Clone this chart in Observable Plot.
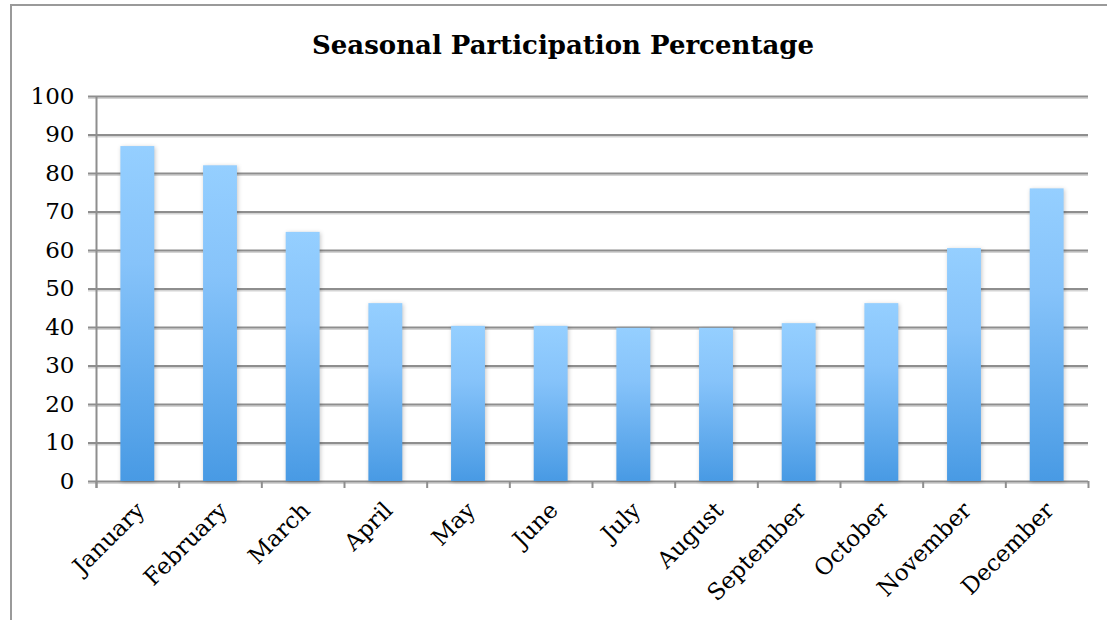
<!DOCTYPE html>
<html>
<head>
<meta charset="utf-8">
<script src="https://cdn.jsdelivr.net/npm/d3@7"></script>
<script src="https://cdn.jsdelivr.net/npm/@observablehq/plot@0.6"></script>
<style>
  html, body { margin: 0; padding: 0; background: #fff; }
  body { width: 1107px; height: 620px; overflow: hidden; position: relative; }
  #box {
    position: absolute; left: 10px; top: 4px; width: 1110px; height: 640px;
    border: 2px solid #9a9a9a; box-sizing: border-box;
  }
  #title {
    position: absolute; left: 10px; width: 1106px; top: 28px;
    text-align: center; font-family: "DejaVu Serif", serif; font-weight: bold;
    font-size: 26px; color: #000; line-height: 34px;
  }
  #chart { position: absolute; left: 0; top: 0; }
  #chart g[aria-label="bar"] rect { filter: drop-shadow(1px 1px 2px rgba(0,0,0,0.22)); }
</style>
</head>
<body>
<div id="box"></div>
<div id="title">Seasonal Participation Percentage</div>
<div id="chart"></div>
<script>
// Monthly participation, in percent
const months = ["January", "February", "March", "April", "May", "June",
  "July", "August", "September", "October", "November", "December"];
const participation = [87, 82, 64.7, 46.2, 40.3, 40.3, 39.8, 39.8, 41, 46.2, 60.5, 76];
const yTicks = [0, 10, 20, 30, 40, 50, 60, 70, 80, 90, 100];

const data = months.map((m, i) => ({month: m, value: participation[i]}));

const W = 1107, H = 620;
const mL = 96, mR = 19, mT = 96, mB = 139;
const step = (W - mL - mR) / months.length;
const font = "DejaVu Serif, serif";
const axisGray = "#8e8e8e";
const shadeGray = "#d4d4d4";

// Vertical blue gradient shared by every bar
const gradientDefs = () => {
  const ns = "http://www.w3.org/2000/svg";
  const defs = document.createElementNS(ns, "defs");
  const g = document.createElementNS(ns, "linearGradient");
  g.setAttribute("id", "barFill");
  g.setAttribute("x1", "0"); g.setAttribute("y1", "0");
  g.setAttribute("x2", "0"); g.setAttribute("y2", "1");
  [["0%", "#95cfff"], ["35%", "#86c3fa"], ["100%", "#489ae4"]].forEach(([o, c]) => {
    const s = document.createElementNS(ns, "stop");
    s.setAttribute("offset", o); s.setAttribute("stop-color", c);
    g.appendChild(s);
  });
  defs.appendChild(g);
  return defs;
};

const chart = Plot.plot({
  width: W,
  height: H,
  marginLeft: mL,
  marginRight: mR,
  marginTop: mT,
  marginBottom: mB,
  style: {fontFamily: font, fontSize: "23px", color: "#000", background: "transparent", overflow: "visible"},
  x: {type: "band", domain: months, paddingInner: 0.59, paddingOuter: 0.295, round: false, axis: null},
  y: {domain: [0, 100], axis: null},
  marks: [
    gradientDefs,
    // soft shading under each gridline
    Plot.ruleY(yTicks, {stroke: shadeGray, strokeWidth: 1.5, insetLeft: -8, dy: 1.8}),
    // horizontal gridlines with short outward ticks
    Plot.ruleY(yTicks, {stroke: axisGray, strokeWidth: 2, insetLeft: -8}),
    // vertical axis line
    Plot.ruleX(["January"], {dx: -step / 2, stroke: axisGray, strokeWidth: 2, insetBottom: -7}),
    // category boundary ticks below the baseline
    Plot.ruleX(months, {y1: 0, y2: 0, insetBottom: -7, dx: -step / 2, stroke: axisGray, strokeWidth: 2}),
    Plot.ruleX(["December"], {y1: 0, y2: 0, insetBottom: -7, dx: step / 2, stroke: axisGray, strokeWidth: 2}),
    Plot.barY(data, {x: "month", y: "value", fill: "url(#barFill)"}),
    // y tick labels
    Plot.text(yTicks, {
      y: d => d, frameAnchor: "left", text: d => String(d),
      textAnchor: "end", dx: -22, fontSize: 23, fill: "#000"
    }),
    // rotated month labels
    Plot.text(months, {
      x: d => d, y: 0, text: d => d, rotate: -45, textAnchor: "end",
      lineAnchor: "middle", dx: 3, dy: 25, fontSize: 23, fill: "#000"
    })
  ]
});

document.getElementById("chart").appendChild(chart);
</script>
</body>
</html>
